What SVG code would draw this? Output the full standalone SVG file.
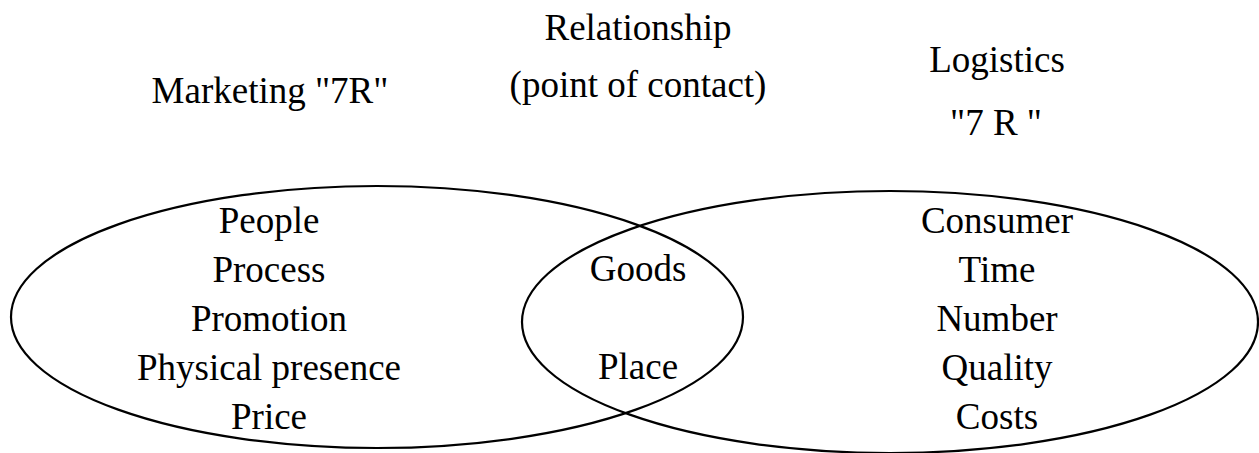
<svg xmlns="http://www.w3.org/2000/svg" width="1259" height="453" viewBox="0 0 1259 453">
<style>
.e{fill:none;stroke:#000;stroke-width:2.2}
</style>
<rect width="1259" height="453" fill="#fff"/>
<g id="connectors"></g>
<g font-family="Liberation Serif" font-size="37" fill="#000" text-anchor="middle">
<g id="marketing">
<ellipse class="e" cx="377" cy="317" rx="366" ry="131"/>
<text x="270" y="103">Marketing "7R"</text>
<text x="269" y="233">People</text>
<text x="269" y="282">Process</text>
<text x="269" y="331">Promotion</text>
<text x="269" y="380">Physical presence</text>
<text x="269" y="429">Price</text>
</g>
<g id="logistics">
<ellipse class="e" cx="890" cy="322" rx="368" ry="131"/>
<text x="997" y="72">Logistics</text>
<text x="996" y="135">"7 R "</text>
<text x="997" y="233">Consumer</text>
<text x="997" y="282">Time</text>
<text x="997" y="331">Number</text>
<text x="997" y="380">Quality</text>
<text x="997" y="429">Costs</text>
</g>
<g id="relationship">
<text x="638" y="40">Relationship</text>
<text x="638" y="97">(point of contact)</text>
<text x="638" y="281">Goods</text>
<text x="638" y="379">Place</text>
</g>
</g>
</svg>
